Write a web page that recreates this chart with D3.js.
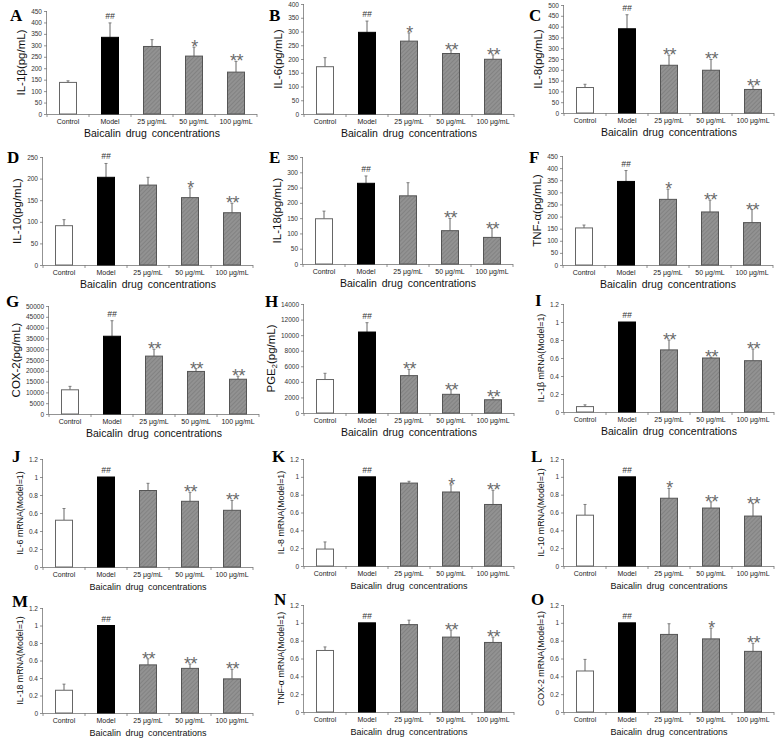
<!DOCTYPE html>
<html><head><meta charset="utf-8">
<script src="https://cdn.jsdelivr.net/npm/d3@7"></script>
<style>
body{margin:0;background:#fff;}
</style></head>
<body><svg id="chart" width="784" height="740" font-family="Arial, 'Liberation Sans', sans-serif"></svg>
<script>
const categories = ["Control","Model","25 μg/mL","50 μg/mL","100 μg/mL"];
const xTitle = "Baicalin drug concentrations";
const panelLetters = ["A","B","C","D","E","F","G","H","I","J","K","L","M","N","O"];
const yLabels = ["IL-1β(pg/mL)","IL-6(pg/mL)","IL-8(pg/mL)","IL-10(pg/mL)","IL-18(pg/mL)","TNF-α(pg/mL)","COX-2(pg/mL)","PGE2(pg/mL)",
  "IL-1β mRNA(Model=1)","IL-6 mRNA(Model=1)","IL-8 mRNA(Model=1)","IL-10 mRNA(Model=1)","IL-18 mRNA(Model=1)","TNF-α mRNA(Model=1)","COX-2 mRNA(Model=1)"];
const yMax  = [450,400,500,250,350,450,50000,14000,1.2,1.2,1.2,1.2,1.2,1.2,1.2];
const yStep = [50,50,50,50,50,50,5000,2000,0.2,0.2,0.2,0.2,0.2,0.2,0.2];

const meanIL1b = [138,335,295,253,183],   sdIL1b = [7,63,30,39,47];
const meanIL6  = [172,297,265,220,199],   sdIL6  = [33,41,30,13,16];
const meanIL8  = [118,390,221,198,109],   sdIL8  = [15,65,47,50,16];
const meanIL10 = [91,203,185,156,121],    sdIL10 = [14,32,18,22,22];
const meanIL18 = [148,264,223,109,87],    sdIL18 = [25,24,43,40,29];
const meanTNF  = [153,345,271,219,175],   sdTNF  = [12,45,42,49,54];
const meanCOX2 = [11200,36000,26800,19700,16100], sdCOX2 = [1600,7200,3200,1300,1400];
const meanPGE2 = [4300,10400,4800,2400,1700],     sdPGE2 = [800,1200,800,600,300];
const mIL1b = [0.06,1,0.69,0.60,0.57], eIL1b = [0.02,0,0.11,0.01,0.13];
const mIL6  = [0.52,1,0.85,0.73,0.63], eIL6  = [0.13,0,0.08,0.10,0.11];
const mIL8  = [0.19,1,0.93,0.83,0.69], eIL8  = [0.08,0,0.02,0.08,0.16];
const mIL10 = [0.57,1,0.76,0.65,0.56], eIL10 = [0.12,0,0.11,0.07,0.14];
const mIL18 = [0.26,1,0.55,0.51,0.39], eIL18 = [0.07,0,0.07,0.05,0.11];
const mTNF  = [0.69,1,0.98,0.84,0.78], eTNF  = [0.04,0,0.05,0.08,0.06];
const mCOX2 = [0.46,1,0.87,0.82,0.68], eCOX2 = [0.13,0,0.12,0.12,0.09];

const sigA = ["","##","","*","**"], sigB = ["","##","*","**","**"], sigC = ["","##","**","**","**"];
const sigD = ["","##","","*","**"], sigE = ["","##","","**","**"], sigF = ["","##","*","**","**"];
const sigG = ["","##","**","**","**"], sigH = ["","##","**","**","**"], sigI = ["","##","**","**","**"];
const sigJ = ["","##","","**","**"], sigK = ["","##","","*","**"], sigL = ["","##","*","**","**"];
const sigM = ["","##","**","**","**"], sigN = ["","##","","**","**"], sigO = ["","##","","*","**"];

const means = [meanIL1b,meanIL6,meanIL8,meanIL10,meanIL18,meanTNF,meanCOX2,meanPGE2,mIL1b,mIL6,mIL8,mIL10,mIL18,mTNF,mCOX2];
const sds   = [sdIL1b,sdIL6,sdIL8,sdIL10,sdIL18,sdTNF,sdCOX2,sdPGE2,eIL1b,eIL6,eIL8,eIL10,eIL18,eTNF,eCOX2];
const sigs  = [sigA,sigB,sigC,sigD,sigE,sigF,sigG,sigH,sigI,sigJ,sigK,sigL,sigM,sigN,sigO];

const layout = [
 {ax:47, top:11, bot:114, lx:10, ly:21, lf:11.5, tf:10.5},
 {ax:304,top:4,  bot:114, lx:269,ly:21, lf:11.5, tf:10.5},
 {ax:564,top:5,  bot:113, lx:529,ly:21, lf:11.5, tf:10.5},
 {ax:43, top:157,bot:265, lx:7,  ly:163,lf:11.5, tf:10.5},
 {ax:303,top:157,bot:264, lx:269,ly:163,lf:11.5, tf:10.5},
 {ax:563,top:156,bot:265, lx:529,ly:163,lf:11.5, tf:10.5},
 {ax:49, top:306,bot:414, lx:6,  ly:307,lf:11.5, tf:10.5},
 {ax:304,top:304,bot:413, lx:265,ly:307,lf:11.5, tf:10.5},
 {ax:564,top:304,bot:412, lx:535,ly:306,lf:8.8,tf:10.5},
 {ax:43, top:459,bot:567, lx:12, ly:462,lf:8.8,tf:9},
 {ax:304,top:459,bot:566, lx:272,ly:462,lf:8.8,tf:9},
 {ax:564,top:459,bot:566, lx:531,ly:462,lf:8.8,tf:9},
 {ax:43, top:608,bot:713, lx:12, ly:607,lf:8.8,tf:9},
 {ax:304,top:605,bot:712, lx:274,ly:605,lf:8.8,tf:9},
 {ax:564,top:605,bot:712, lx:531,ly:605,lf:8.8,tf:9}
];

const svg = d3.select("#chart");
const defs = svg.append("defs");
const pat = defs.append("pattern").attr("id","hatch").attr("patternUnits","userSpaceOnUse")
  .attr("width",3).attr("height",3).attr("patternTransform","rotate(45)");
pat.append("rect").attr("width",3).attr("height",3).attr("fill","#929292");
pat.append("line").attr("x1",0).attr("y1",0).attr("x2",0).attr("y2",3).attr("stroke","#787878").attr("stroke-width",1.2);

const fills = ["#ffffff","#000000","url(#hatch)","url(#hatch)","url(#hatch)"];
const strokes = ["#666","#000","#555","#555","#555"];

layout.forEach((L,p)=>{
  const g = svg.append("g");
  const x = d3.scaleBand().domain(categories).range([L.ax, L.ax+210]).paddingInner(0).paddingOuter(0);
  const y = d3.scaleLinear().domain([0,yMax[p]]).range([L.bot, L.top]);
  const ticks = d3.range(0, yMax[p] + yStep[p]/2, yStep[p]);
  const fmt = yMax[p] < 5 ? (d=> (Math.round(d*10)/10).toString()) : d3.format("d");

  const yAx = g.append("g").attr("transform",`translate(${L.ax},0)`)
    .call(d3.axisLeft(y).tickValues(ticks).tickSize(3).tickPadding(2).tickFormat(fmt));
  yAx.attr("font-family",null).attr("font-size",null);
  yAx.selectAll("path,line").attr("stroke","#777").attr("stroke-width",0.8);
  yAx.select(".domain").attr("d",`M-0.5,${L.top}V${L.bot}`);
  yAx.selectAll("text").attr("font-size",6.5).attr("fill","#333");

  g.append("line").attr("x1",L.ax).attr("x2",L.ax+210).attr("y1",L.bot+0.5).attr("y2",L.bot+0.5)
    .attr("stroke","#777").attr("stroke-width",0.8);
  const bounds = d3.range(6).map(i=> L.ax + i*x.step());
  g.selectAll(".xt").data(bounds).join("line")
    .attr("x1",d=>d).attr("x2",d=>d).attr("y1",L.bot).attr("y2",L.bot+3)
    .attr("stroke","#777").attr("stroke-width",0.8);

  g.selectAll(".cat").data(categories).join("text")
    .attr("x",d=>x(d)+x.bandwidth()/2).attr("y",L.bot+10)
    .attr("text-anchor","middle").attr("font-size",7).attr("fill","#222").text(d=>d);

  g.append("text").attr("x",L.ax+105).attr("y",L.bot+23).attr("text-anchor","middle")
    .attr("font-size",L.tf).attr("fill","#111").attr("word-spacing","2px").text(xTitle);

  let maxW = 0;
  yAx.selectAll("text").each(function(){ maxW = Math.max(maxW, this.getBBox().width); });
  const lxp = L.ax - 5 - maxW - 2 - L.lf*0.35;
  const yl = g.append("text").attr("transform",`translate(${lxp},${(L.top+L.bot)/2}) rotate(-90)`)
    .attr("text-anchor","middle").attr("font-size",L.lf).attr("fill","#111");
  const lab = yLabels[p];
  if (lab.startsWith("PGE2")) {
    yl.append("tspan").text("PGE");
    yl.append("tspan").attr("font-size",L.lf*0.65).attr("dy",2).text("2");
    yl.append("tspan").attr("dy",-2).text("(pg/mL)");
  } else yl.text(lab);

  g.append("text").attr("x",L.lx).attr("y",L.ly)
    .style("font-family","'Liberation Serif','Times New Roman',serif")
    .attr("font-weight","bold").attr("font-size",17).attr("fill","#000").text(panelLetters[p]);

  const bw = 17;
  const data = categories.map((c,i)=>({c,i,m:means[p][i],s:sds[p][i],sig:sigs[p][i]}));
  data.forEach(d=>{
    if (d.s>0){
      const cx = x(d.c)+x.bandwidth()/2;
      g.append("line").attr("x1",cx).attr("x2",cx).attr("y1",y(d.m)).attr("y2",y(d.m+d.s)).attr("stroke","#666").attr("stroke-width",1);
      g.append("line").attr("x1",cx-1.5).attr("x2",cx+1.5).attr("y1",y(d.m+d.s)).attr("y2",y(d.m+d.s)).attr("stroke","#666").attr("stroke-width",0.8);
    }
  });
  g.selectAll(".bar").data(data).join("rect")
    .attr("x",d=>x(d.c)+(x.bandwidth()-bw)/2).attr("width",bw)
    .attr("y",d=>y(d.m)).attr("height",d=>y(0)-y(d.m))
    .attr("fill",d=>fills[d.i]).attr("stroke",d=>strokes[d.i]).attr("stroke-width",1);
  data.forEach(d=>{
    if (!d.sig) return;
    const cx = x(d.c)+x.bandwidth()/2;
    const yt = y(d.m+d.s);
    if (d.sig==="##"){
      g.append("text").attr("x",cx).attr("y",yt-4).attr("text-anchor","middle").attr("font-size",8.5)
        .attr("font-style","italic").attr("fill","#333").text(d.sig);
    } else {
      g.append("text").attr("x",cx+0.5).attr("y",yt+6).attr("text-anchor","middle").attr("font-size",18)
        .attr("fill","#6a6a6a").attr("letter-spacing","-0.5px").text(d.sig);
    }
  });
});
</script></body></html>
